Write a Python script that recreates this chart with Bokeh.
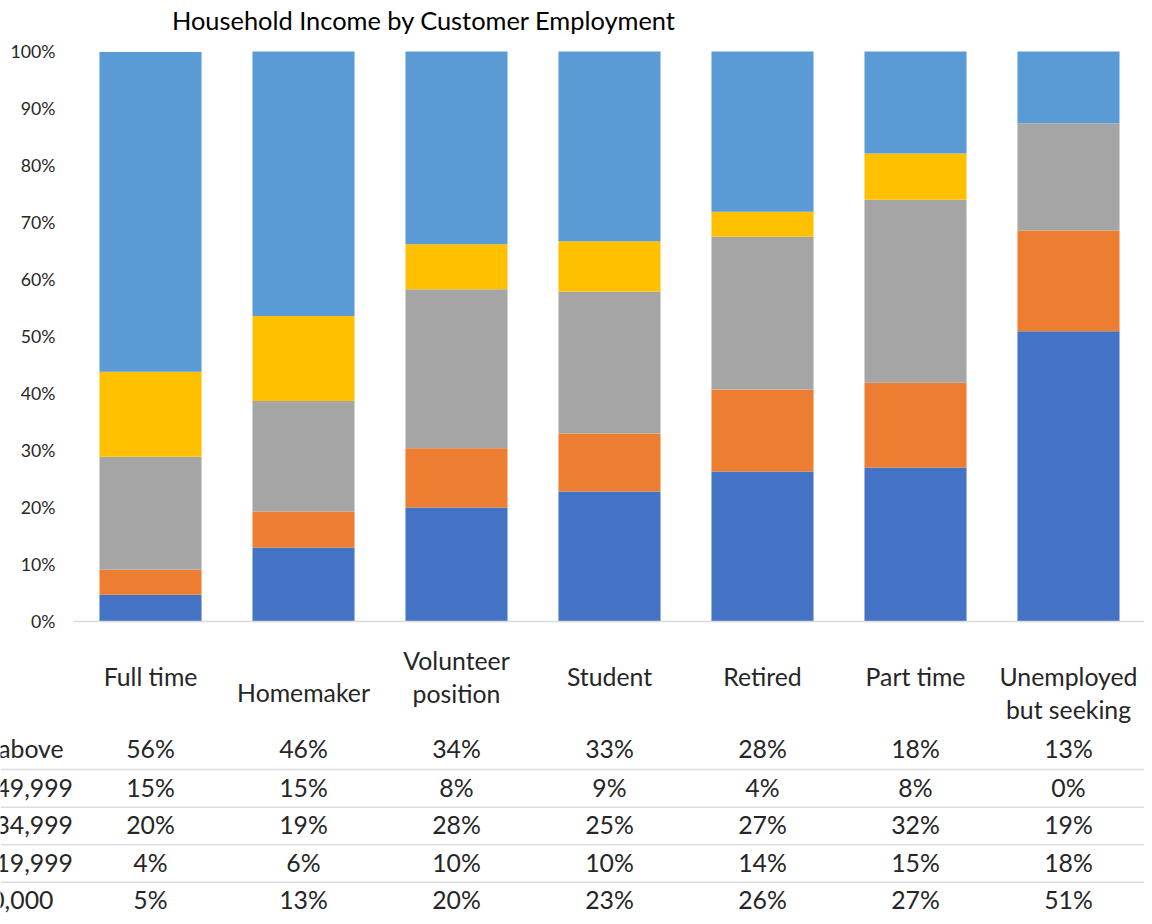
from bokeh.plotting import figure
from bokeh.models import ColumnDataSource, Range1d
from bokeh.core.properties import value
from bokeh.embed import file_html
from bokeh.resources import INLINE

# ---------------- data ----------------
categories = ["Full time", "Homemaker", "Volunteer\nposition", "Student",
              "Retired", "Part time", "Unemployed\nbut seeking"]
series = ["Less than $10,000", "$10,000 to $19,999", "$20,000 to $34,999",
          "$35,000 to $49,999", "$50,000 and above"]
under_10k = [4.7, 13.0, 20.0, 22.8, 26.3, 27.0, 50.9]
k10_20 = [4.4, 6.3, 10.4, 10.2, 14.4, 14.9, 17.7]
k20_35 = [19.8, 19.4, 27.9, 24.9, 26.8, 32.1, 18.8]
k35_50 = [14.9, 14.9, 7.9, 8.8, 4.4, 8.1, 0.0]
k50_up = [56.1, 46.4, 33.8, 33.3, 28.1, 17.9, 12.6]
y_ticks = [0, 10, 20, 30, 40, 50, 60, 70, 80, 90, 100]
y_tick_labels = [f"{t}%" for t in y_ticks]
title_text = "Household Income by Customer Employment"

colors = ["#4472C4", "#ED7D31", "#A5A5A5", "#FFC000", "#5B9BD5"]
values = [under_10k, k10_20, k20_35, k35_50, k50_up]

# ---------------- layout helpers (canvas pixels -> data) ----------------
W, H = 1144, 916
PX_X = 153.0   # px per category
PX_Y = 570.0   # px per 100%
def dx(px):
    return (px - 150.0) / PX_X
def dy(py):
    return (621.0 - py) / PX_Y

FONT = value("Lato")
TXT = "#262626"
TABLE_FS = "24.8px"

p = figure(width=W, height=H, x_range=Range1d(dx(0), dx(W)),
           y_range=Range1d(dy(H), dy(0)), x_axis_type=None, y_axis_type=None,
           min_border=0, toolbar_location=None, output_backend="svg",
           outline_line_color=None, background_fill_color="white",
           border_fill_color="white")
p.grid.visible = False

xs = list(range(len(categories)))
data = {"x": xs}
for name, vals in zip(series, values):
    data[name] = [v / 100.0 for v in vals]
src = ColumnDataSource(data)
p.vbar_stack(series, x="x", width=0.667, color=colors, line_color=None, source=src)

# baseline axis line
p.segment(x0=[dx(73)], y0=[0], x1=[dx(1145)], y1=[0], line_color="#D9D9D9", line_width=1.5)

# y tick labels
p.text(x=[dx(55)] * len(y_ticks), y=[t / 100.0 for t in y_ticks], text=y_tick_labels,
       text_font=FONT, text_font_size="17.7px", text_color=TXT,
       text_align="right", text_baseline="middle")

# title
p.text(x=[dx(423.5)], y=[dy(19)], text=[title_text], text_font=FONT,
       text_font_size="25.4px", text_color="#000000", text_align="center",
       text_baseline="middle")

# category header labels (data table header)
first_line_y = [676, 692, 660, 676, 676, 676, 676]
hx, hy, ht = [], [], []
for i, (c, fy) in enumerate(zip(categories, first_line_y)):
    for j, line in enumerate(c.split("\n")):
        hx.append(i)
        hy.append(dy(fy + j * 32.5))
        ht.append(line)
p.text(x=hx, y=hy, text=ht, text_font=FONT, text_font_size=TABLE_FS, text_color=TXT,
       text_align="center", text_baseline="middle")

# data table rows (top row = highest income)
row_y = [748, 786.5, 824, 861.5, 899]
sep_y = [769, 806.7, 844.3, 881.7]
rows = list(reversed(list(zip(series, values))))
tx, ty, tt = [], [], []
lx, ly, lt = [], [], []
for r, (name, vals) in enumerate(rows):
    lx.append(dx(-147))
    ly.append(dy(row_y[r]))
    lt.append(name)
    for i, v in enumerate(vals):
        tx.append(i)
        ty.append(dy(row_y[r]))
        tt.append(f"{round(v):d}%")
p.text(x=tx, y=ty, text=tt, text_font=FONT, text_font_size=TABLE_FS, text_color=TXT,
       text_align="center", text_baseline="middle")
p.text(x=lx, y=ly, text=lt, text_font=FONT, text_font_size=TABLE_FS, text_color=TXT,
       text_align="left", text_baseline="middle")
p.segment(x0=[dx(0)] * len(sep_y), y0=[dy(s) for s in sep_y],
          x1=[dx(1145)] * len(sep_y), y1=[dy(s) for s in sep_y],
          line_color="#DDDDDD", line_width=1.5)

open("out.html", "w").write(file_html(p, INLINE))
